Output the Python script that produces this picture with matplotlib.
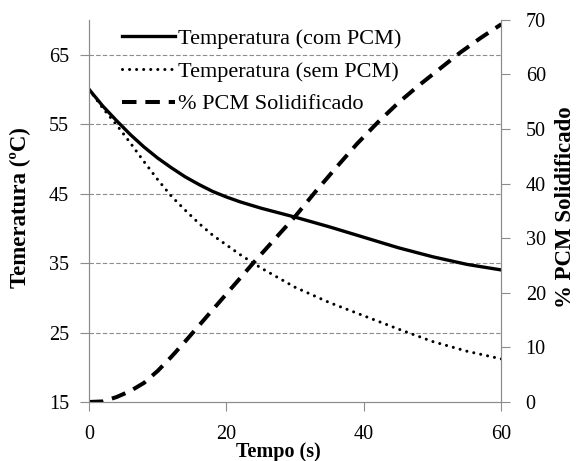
import numpy as np
import matplotlib.pyplot as plt

plt.rcParams['font.family'] = ['Liberation Serif', 'DejaVu Serif']

# tempo (s)
tempo = [0, 2, 4, 6, 8, 10, 12, 14, 16, 18, 20, 22, 25, 30, 35, 40, 45, 50, 55, 60]
# temperatura com PCM (ºC)
temp_com = [60.0, 57.6, 55.5, 53.5, 51.7, 50.1, 48.7, 47.4, 46.3, 45.3, 44.5, 43.8, 42.9,
            41.6, 40.2, 38.7, 37.2, 35.9, 34.8, 34.0]
# temperatura sem PCM (ºC)
temp_sem = [60.0, 57.3, 54.9, 52.3, 49.6, 47.0, 44.6, 42.6, 40.7, 39.0, 37.6, 36.2, 34.3,
            31.5, 29.3, 27.4, 25.5, 23.7, 22.3, 21.2]
# % PCM solidificado
pcm_t = [0, 2, 4, 6, 8, 10, 12, 14, 16, 18, 20, 22, 24, 26, 28, 30, 33, 36, 39, 42, 45,
         48, 51, 54, 57, 60]
pcm_sol = [0, 0.1, 0.9, 2.0, 3.5, 5.7, 8.3, 11.1, 14.0, 16.9, 19.8, 22.7, 25.6, 28.4, 31.2,
           34.0, 38.6, 43.0, 47.3, 51.2, 54.8, 58.0, 61.0, 64.0, 66.7, 69.2]

fig = plt.figure(figsize=(5.76, 4.61), dpi=100)
ax = fig.add_axes([0.1545, 0.128, 0.716, 0.829])
ax2 = ax.twinx()

l1, = ax.plot(tempo, temp_com, color='black', lw=2.4, label='Temperatura (com PCM)')
l2, = ax.plot(tempo, temp_sem, color='black', lw=2.2, linestyle=(0, (0.01, 2.3)),
              dash_capstyle='round', label='Temperatura (sem PCM)')
l3, = ax2.plot(pcm_t, pcm_sol, color='black', lw=2.9, linestyle=(0, (3.6, 2.2)),
               label='% PCM Solidificado')

ax.set_xlim(0, 60)
ax.set_ylim(15, 70)
ax.set_yticks([15, 25, 35, 45, 55, 65])
ax.set_xticks([0, 20, 40, 60])
ax2.set_ylim(0, 70)
ax2.set_yticks(range(0, 71, 10))

for y in [25, 35, 45, 55, 65]:
    ax.axhline(y, color='#8c8c8c', lw=0.8, linestyle=(0, (4, 2)), zorder=0)

for a in (ax, ax2):
    a.spines['top'].set_visible(False)
    for s in ('left', 'right', 'bottom'):
        a.spines[s].set_color('#8c8c8c')
    a.tick_params(direction='out', color='#8c8c8c', length=6.5, labelsize=14.5)
ax.tick_params(axis='x', pad=10)
ax.tick_params(axis='y', pad=8)
ax2.tick_params(axis='y', pad=11)

ax.set_xlabel('Tempo (s)', fontsize=14.5, fontweight='bold')
ax.xaxis.set_label_coords(0.459, -0.105)
ax.set_ylabel('Temeratura (ºC)', fontsize=16.5, fontweight='bold')
ax.yaxis.set_label_coords(-0.14, 0.51)
ax2.set_ylabel('% PCM Solidificado', fontsize=16.5, fontweight='bold')
ax2.yaxis.set_label_coords(1.13, 0.51)

ax.legend(handles=[l1, l2, l3], loc='upper left', bbox_to_anchor=(0.031, 1.03),
          frameon=False, fontsize=16, handlelength=2.4, handletextpad=0.15,
          labelspacing=0.55)

fig.savefig('out.png', dpi=100)
